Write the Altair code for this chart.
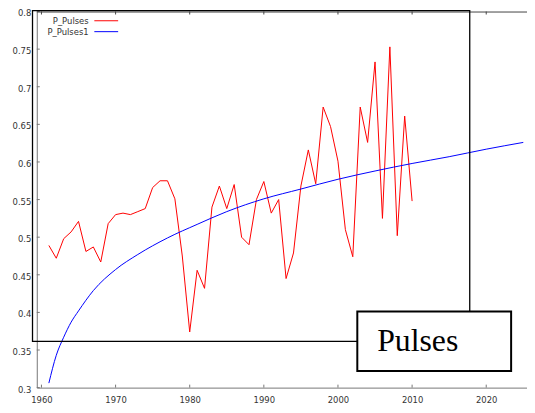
import altair as alt
import pandas as pd

# ---- data ----
series_names = ["P_Pulses", "P_Pulses1"]

years = list(range(1961, 2011))
pulses = [0.489, 0.472, 0.498, 0.507, 0.521, 0.481, 0.487, 0.467, 0.518, 0.530,
          0.532, 0.530, 0.534, 0.538, 0.566, 0.575, 0.575, 0.551, 0.475, 0.374,
          0.456, 0.432, 0.540, 0.568, 0.538, 0.570, 0.500, 0.490, 0.550, 0.574,
          0.532, 0.550, 0.445, 0.479, 0.568, 0.616, 0.571, 0.673, 0.647, 0.601,
          0.510, 0.474, 0.673, 0.626, 0.733, 0.525, 0.753, 0.502, 0.661, 0.548]

fit_years = [1961, 1962, 1963, 1964, 1965, 1967, 1970, 1973, 1977, 1981,
             1985, 1990, 1995, 2000, 2005, 2010, 2015, 2020, 2025]
fit_values = [0.306, 0.343, 0.367, 0.387, 0.402, 0.429, 0.457, 0.477, 0.499, 0.517,
              0.534, 0.551, 0.564, 0.577, 0.588, 0.598, 0.607, 0.617, 0.626]

x_ticks = [1960, 1970, 1980, 1990, 2000, 2010, 2020]
y_ticks = [0.3, 0.35, 0.4, 0.45, 0.5, 0.55, 0.6, 0.65, 0.7, 0.75, 0.8]

title_text = "Pulses"

# ---- build ----
W, H = 494, 379
AX = "#777777"
LAB = "#333333"
FONT = "DejaVu Sans"
FS = 8.5

x_scale = alt.Scale(domain=[1959.37, 2025.5], nice=False, zero=False)
y_scale = alt.Scale(domain=[0.3, 0.8], nice=False, zero=False)

df_p = pd.DataFrame({"year": years, "value": pulses})
df_f = pd.DataFrame({"year": fit_years, "value": fit_values})

x_axis = alt.Axis(values=x_ticks, format="d", title=None, grid=False, ticks=False, tickSize=0,
                  domainColor=AX, labelColor=LAB, labelFont=FONT, labelFontSize=FS,
                  labelPadding=8)
y_axis = alt.Axis(values=y_ticks, format="~g", title=None, grid=False, ticks=False, tickSize=0,
                  domainColor=AX, labelColor=LAB, labelFont=FONT, labelFontSize=FS,
                  labelPadding=6, labelOffset=1.5)


def X(field):
    return alt.X(field, scale=x_scale, axis=x_axis)


def Y(field):
    return alt.Y(field, scale=y_scale, axis=y_axis)


red = alt.Chart(df_p).mark_line(color="#ff0000", strokeWidth=1).encode(
    x=X("year:Q"), y=Y("value:Q"))
blue = alt.Chart(df_f).mark_line(color="#0000ff", strokeWidth=1, interpolate="monotone").encode(
    x=X("year:Q"), y=Y("value:Q"))

ytk = alt.Chart(pd.DataFrame({"value": y_ticks})).mark_rule(color=AX, strokeWidth=1).encode(
    y=Y("value:Q"), x=alt.value(0), x2=alt.value(3))
xtk_b = alt.Chart(pd.DataFrame({"year": x_ticks})).mark_rule(color=AX, strokeWidth=1).encode(
    x=X("year:Q"), y=alt.value(H), y2=alt.value(H - 3))
xtk_t = alt.Chart(pd.DataFrame({"year": x_ticks})).mark_rule(color="#444444", strokeWidth=1).encode(
    x=X("year:Q"), y=alt.value(0), y2=alt.value(3))
top_border = alt.Chart(pd.DataFrame({"a": [0]})).mark_rule(color="#444444", strokeWidth=1).encode(
    x=alt.value(0), x2=alt.value(W), y=alt.value(0.5))

frame = alt.Chart(pd.DataFrame({"a": [0]})).mark_rect(
    fillOpacity=0, stroke="black", strokeWidth=1.3).encode(
    x=alt.value(-4.3), x2=alt.value(436.3), y=alt.value(-1), y2=alt.value(332.3))

box = alt.Chart(pd.DataFrame({"a": [0]})).mark_rect(
    fill="white", stroke="black", strokeWidth=2).encode(
    x=alt.value(323), x2=alt.value(478), y=alt.value(302.3), y2=alt.value(362.3))
box_text = alt.Chart(pd.DataFrame({"label": [title_text]})).mark_text(
    font="Liberation Serif", fontSize=32, align="left", baseline="alphabetic", color="black").encode(
    x=alt.value(343), y=alt.value(341.7), text="label:N")

leg_colors = ["#ff0000", "#0000ff"]
leg_y = [10, 21]
legend_layers = []
for name, col, yy in zip(series_names, leg_colors, leg_y):
    legend_layers.append(
        alt.Chart(pd.DataFrame({"label": [name]})).mark_text(
            font=FONT, fontSize=FS, align="right", baseline="middle", color=LAB).encode(
            x=alt.value(52.3), y=alt.value(yy), text="label:N"))
    legend_layers.append(
        alt.Chart(pd.DataFrame({"label": [name]})).mark_rule(color=col, strokeWidth=1).encode(
            x=alt.value(58), x2=alt.value(82), y=alt.value(yy - 0.7)))

chart = alt.layer(
    red, blue, ytk, xtk_b, xtk_t, top_border, frame, box, box_text, *legend_layers
).properties(
    width=W, height=H,
    autosize=alt.AutoSizeParams(type="none"),
    padding={"left": 29, "top": 2, "right": 0, "bottom": 22},
    background="white",
).configure_view(stroke=None)

chart.save("out.html", embed_options={"renderer": "svg", "actions": False})
